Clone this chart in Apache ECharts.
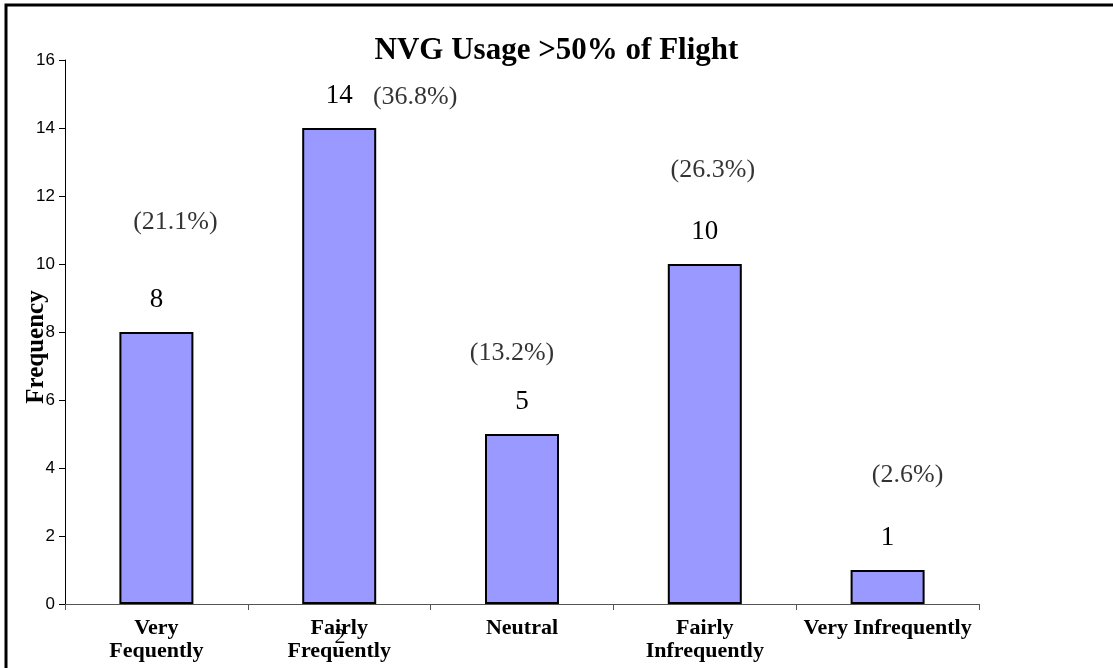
<!DOCTYPE html>
<html>
<head>
<meta charset="utf-8">
<script src="https://cdn.jsdelivr.net/npm/echarts@6/dist/echarts.min.js"></script>
<style>
  html, body { margin: 0; padding: 0; background: #fff; }
  #chart { width: 1113px; height: 668px; }
</style>
</head>
<body>
<div id="chart"></div>
<script>
// data
var categories = ['Very\nFequently', 'Fairly\nFrequently', 'Neutral', 'Fairly\nInfrequently', 'Very Infrequently'];
var counts = [8, 14, 5, 10, 1];
var percents = ['(21.1%)', '(36.8%)', '(13.2%)', '(26.3%)', '(2.6%)'];
var yTicks = [0, 2, 4, 6, 8, 10, 12, 14, 16];

// label offsets for the percent text (px, from bar top)
var pctOffsets = [[19, -110], [76, -31], [-10, -81], [8, -94], [20, -95]];

var serif = '"Liberation Serif", "DejaVu Serif", serif';

var chart = echarts.init(document.getElementById('chart'));
chart.setOption({
  animation: false,
  backgroundColor: '#fff',
  grid: { left: 65, right: 134, top: 60, bottom: 64 },
  title: {
    text: 'NVG Usage >50% of Flight',
    left: 'center',
    top: 30,
    textStyle: { fontFamily: serif, fontWeight: 'bold', fontSize: 31, color: '#000' }
  },
  xAxis: {
    type: 'category',
    data: categories,
    axisLine: { lineStyle: { color: '#555', width: 1 } },
    axisTick: { show: true, length: 6, lineStyle: { color: '#555' } },
    axisLabel: {
      interval: 0,
      margin: 13,
      lineHeight: 23,
      fontFamily: serif,
      fontWeight: 'bold',
      fontSize: 22,
      color: '#000'
    }
  },
  yAxis: {
    type: 'value',
    min: yTicks[0],
    max: yTicks[yTicks.length - 1],
    interval: 2,
    axisLine: { show: true, lineStyle: { color: '#000', width: 1 } },
    axisTick: { show: true, length: 6, lineStyle: { color: '#000' } },
    splitLine: { show: false },
    axisLabel: { margin: 10, fontFamily: '"Liberation Sans", Arial, sans-serif', fontSize: 17, color: '#000' }
  },
  graphic: [
    {
      type: 'rect',
      shape: { x: 6, y: 5, width: 1200, height: 700 },
      style: { fill: 'none', stroke: '#000', lineWidth: 3 },
      silent: true
    },
    {
      type: 'text',
      x: 37, y: 347,
      rotation: Math.PI / 2,
      style: {
        text: 'Frequency',
        fill: '#000',
        font: 'bold 25px ' + serif,
        align: 'center',
        verticalAlign: 'middle'
      }
    },
    {
      type: 'text',
      x: 340, y: 637,
      style: {
        text: '2',
        fill: '#000',
        font: '22px ' + serif,
        align: 'center',
        verticalAlign: 'middle'
      }
    }
  ],
  series: [
    {
      type: 'bar',
      data: counts,
      barWidth: 74,
      itemStyle: { color: '#9999FF', borderColor: '#000', borderWidth: 2 },
      label: {
        show: true,
        position: 'top',
        distance: 19,
        fontFamily: serif,
        fontSize: 27,
        color: '#000'
      }
    },
    {
      type: 'scatter',
      symbolSize: 0,
      silent: true,
      z: 5,
      data: counts.map(function (v, i) {
        return {
          value: [i, v],
          label: { offset: pctOffsets[i] }
        };
      }),
      label: {
        show: true,
        position: 'inside',
        formatter: function (p) { return percents[p.dataIndex]; },
        fontFamily: serif,
        fontSize: 26,
        color: '#000',
        textBorderWidth: 0
      }
    }
  ]
});
</script>
</body>
</html>
